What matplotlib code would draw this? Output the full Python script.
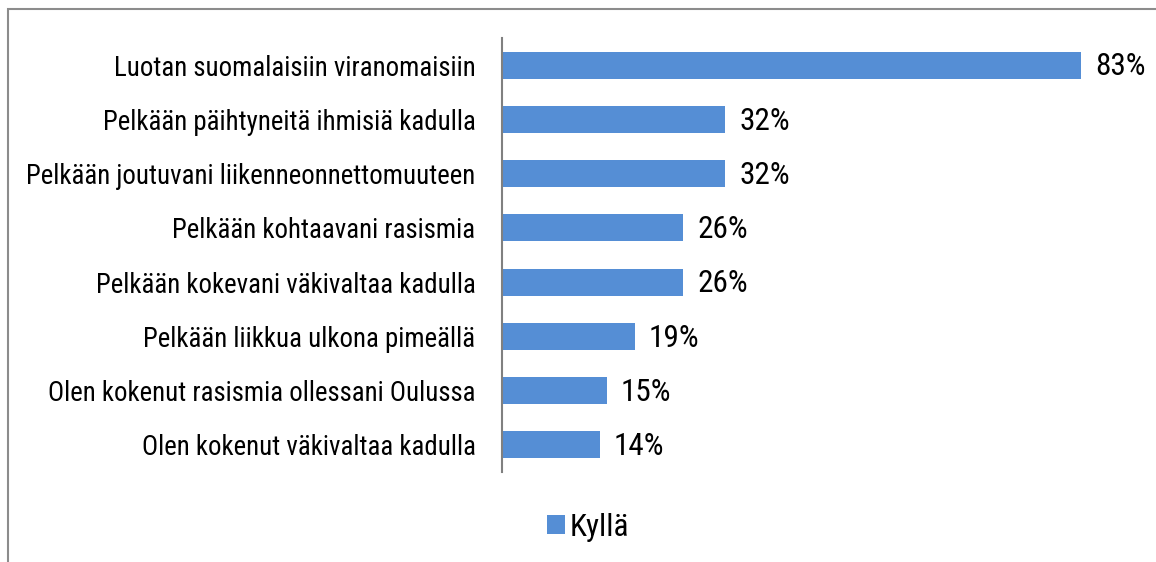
import matplotlib
matplotlib.use('Agg')
import matplotlib.pyplot as plt
from matplotlib.patches import Rectangle

# data (top to bottom as in the chart)
categories = ['Luotan suomalaisiin viranomaisiin',
              'Pelkään päihtyneitä ihmisiä kadulla',
              'Pelkään joutuvani liikenneonnettomuuteen',
              'Pelkään kohtaavani rasismia',
              'Pelkään kokevani väkivaltaa kadulla',
              'Pelkään liikkua ulkona pimeällä',
              'Olen kokenut rasismia ollessani Oulussa',
              'Olen kokenut väkivaltaa kadulla']
values = [83, 32, 32, 26, 26, 19, 15, 14]
series_name = 'Kyllä'

bar_color = '#558ED5'
font = ['Roboto Condensed', 'DejaVu Sans']

W, H = 1156, 562
fig = plt.figure(figsize=(W/100., H/100.), dpi=100)

# outer frame (cut off at right and bottom like the source)
fig.patches.append(Rectangle((7.5/W, -0.1), 2.0, 1.1 - 8.5/H, transform=fig.transFigure,
                             fill=False, edgecolor='#8c8c8c', linewidth=1.5))

ax = fig.add_axes([502/W, 1 - 472/H, (1130-502)/W, (472-38)/H])

ypos = list(range(len(categories)))
ax.barh(ypos, values, height=0.5, color=bar_color, label=series_name)
ax.set_ylim(len(categories) - 0.5, -0.5)
ax.set_xlim(0, 90)

ax.set_yticks(ypos)
ax.set_yticklabels(categories, family=font, fontsize=19.4)
ax.tick_params(axis='y', length=0, pad=19)
ax.set_xticks([])

for s in ['top', 'right', 'bottom']:
    ax.spines[s].set_visible(False)
ax.spines['left'].set_color('#808080')
ax.spines['left'].set_linewidth(1.5)

for y, v in zip(ypos, values):
    ax.text(v + 2.0, y + 0.03, '%d%%' % v, va='center', ha='left', family=font, fontsize=22.5)

leg = fig.legend(loc='center', bbox_to_anchor=(588/W, 1 - 527/H), frameon=False,
                 prop={'family': font, 'size': 22.5}, handlelength=0.55, handleheight=0.55,
                 handletextpad=0.15)

fig.savefig('out.png', dpi=100)
